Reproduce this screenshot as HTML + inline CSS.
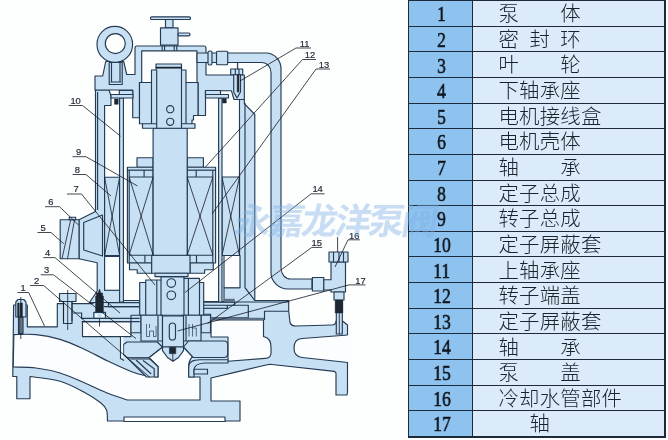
<!DOCTYPE html>
<html lang="zh"><head><meta charset="utf-8"><title>屏蔽泵结构图</title>
<style>
html,body{margin:0;padding:0;background:#fdfefe;}
body{width:668px;height:440px;overflow:hidden;position:relative;font-family:"Liberation Sans",sans-serif;}
#d{position:absolute;left:0;top:0;will-change:transform;}
.b,.b *{fill:#c7e0f4;stroke:#243b53;stroke-width:1.15;stroke-linejoin:round;}
.w{fill:#fcfdfe;stroke:#243b53;stroke-width:1.15;stroke-linejoin:round;}
.w0{fill:#fcfdfe;stroke:none;}
.s{fill:none;stroke:#243b53;stroke-width:1.15;}
.k{fill:none;stroke:#141b24;stroke-width:.8;}
.kk{fill:#1d2633;stroke:#1d2633;stroke-width:.5;}
.g{fill:#5d6f84;stroke:none;}
.t text{font-family:"Liberation Sans",sans-serif;font-size:9.4px;fill:#1d2633;stroke:#1d2633;stroke-width:.2px;text-anchor:middle;}
#tb{position:absolute;left:408.1px;top:0.2px;border-collapse:collapse;table-layout:fixed;width:257.2px;}
#tb td{border:1.2px solid #1c2a3a;height:24.44px;padding:0;box-sizing:border-box;overflow:hidden;white-space:nowrap;line-height:24.44px;}
#tb tr{height:25.64px;}
#tb td.n{width:64.0px;background:#8ec3f0;text-align:center;font-family:"Liberation Serif",serif;font-weight:normal;font-size:22px;color:#10151c;-webkit-text-stroke:.65px #10151c;}
#tb td.n span{display:inline-block;will-change:transform;transform:translate(1px,1px) scaleX(.8);}
#tb td.m{background:#dcebf9;position:relative;}
#tb td.m span{position:absolute;left:26px;top:2px;height:20px;width:130px;overflow:hidden;color:transparent;font-size:19px;line-height:20px;white-space:nowrap;}
.bd{position:absolute;background:#1c2a3a;}
#g{position:absolute;left:0;top:0;pointer-events:none;}
#g .lb text{font-family:"Liberation Sans","Noto Sans CJK SC",sans-serif;font-size:20.4px;font-weight:300;fill:#1a222c;}
#g .wm text{font-family:"Liberation Sans","Noto Sans CJK SC",sans-serif;font-size:36px;font-weight:bold;fill:#7fb0e4;}
</style></head>
<body>
<svg id="d" width="668" height="440" viewBox="0 0 668 440">
<!-- ===== pump body (1) ===== -->
<g class="b">
<path d="M13.6,305 H27.3 V326.8 H57.3 V303.6 H93 V301.5 H288.7 V311 L290,322.5 Q291,326 296,326 L332,325 Q336,325 336,321 H342.5 L347.5,325 V392.5 L347,395 H336 V373 L334.5,371.4 L272,364.5 Q269.6,364.2 267,364.8 L233.7,372.6 L211,378 V401 H240 V421 H107.5 L107.5,421.0 C107.3,419.2 107.7,413.0 106.5,410.0 C105.3,407.0 104.4,405.8 100.6,402.8 C96.8,399.8 90.6,395.6 83.8,392.0 C77.0,388.4 69.0,383.9 60.0,381.3 C51.0,378.7 35.0,377.3 30.0,376.5 V398.7 H16.8 V376.5 H12.8 Z"/>
</g>
<path class="w" d="M13.9,334.6 C17.6,334.6 28.3,333.8 36.0,334.6 C43.7,335.4 52.0,337.0 60.0,339.4 C68.0,341.8 75.8,345.4 83.8,349.0 C91.8,352.6 99.8,357.2 107.8,361.0 C115.8,364.8 125.7,369.3 131.7,371.7 C137.7,374.1 139.3,374.4 143.7,375.3 C148.1,376.2 155.6,376.7 158.0,377.0 V366.5 L149,357.5 L162.5,347 H183.5 L192.5,356.7 Q188.7,360 188.7,367 V377 H200 V400 H127.5 L127.5,400.0 C124.2,398.9 115.1,396.2 107.8,393.3 C100.5,390.4 91.8,385.9 83.8,382.5 C75.8,379.1 68.0,375.4 60.0,373.0 C52.0,370.6 43.8,369.0 36.0,368.0 C28.2,367.0 17.0,367.2 13.2,367.0 Z"/>
<path class="w" d="M211,320 H263.5 V336.5 Q271,338 271,347 V353 Q271,358 265,358.4 L228,361.3 V337 H211 Z"/>
<path class="w" d="M82.5,321.6 H131 V336.6 H82.5 Z"/>
<path class="w" d="M348,335 L302,338.5 Q294,339 294,348 Q294,356.5 302,357.5 L348,362.5"/>
<path class="w0" d="M347,335.6 h3 v26.4 h-3 z"/>
<rect class="w" x="124" y="417" width="101" height="4.5"/>

<!-- left flange stud -->
<g class="b">
<path d="M15.8,317 V302 L18,299.5 H23.8 L26,302 V317 Z"/>
<rect x="18.5" y="317" width="4.5" height="16.6"/>
</g>
<path class="kk" d="M17.6,303 h1.6 v14 h-1.6 z M20.2,303 h2.2 v14 h-2.2 z"/>
<path class="k" d="M20.8,297 V339 M19.6,317 V333 M22,317 V333"/>
<!-- body top bolt -->
<g class="b">
<rect x="59.5" y="293.5" width="16.5" height="8"/>
<rect x="63.5" y="301.5" width="8.5" height="22"/>
</g>
<path class="k" d="M67.7,290 V330 M63.5,301.5 V321 M72,301.5 V321"/>
<!-- right flange bolt -->
<g class="b"><rect x="336.3" y="300" width="6" height="34"/></g>
<path class="kk" d="M337.2,300 h4.4 v9 h-4.4 z"/>
<path class="k" d="M339.3,309 V334"/>

<!-- ===== pump cover (15) & lower bearing housing (4) ===== -->
<g class="b">
<path d="M227.3,305.2 H248.3 V317.7 H210.6 V314.2 H203.4 V308.2 H227.3 Z"/>
<path d="M203.4,302.2 H234.5 V305.2 H203.4 Z M203.4,305.2 H227.3 V308.2 H203.4 Z"/>
<path d="M108.4,300.5 H139.7 V306.6 H108.4 Z"/>
<path d="M139.7,282.5 H145.7 V280 H161 V276.6 H184 V278.3 H199.5 V282.5 H203.7 V315.2 H139.7 Z"/>
<rect x="131" y="315.2" width="10" height="17.5"/>
<rect x="201" y="315.2" width="9.5" height="17.5"/>
<rect x="141" y="315.2" width="21.5" height="25.8"/>
<rect x="182" y="315.2" width="19" height="25.8"/>


</g>
<path class="s" d="M145.7,282.5 V315 M156.8,280 V315 M161,280 V316 M184,278.3 V316 M188.4,278.3 V315 M199.5,282.5 V315 M158,316 V341 M186,316 V341"/>
<path class="s" style="stroke-width:.7" d="M146.5,324 V336.5 h3 v-5.5 h4 v5.5 h2.6 V326 M149.5,324 v4 M192.5,336.5 V324 M196.3,336.5 v-8.5 h-3.8 M189,324 v12.5"/>
<circle class="b" cx="171.3" cy="283" r="4.3"/>
<circle class="b" cx="171.3" cy="295.3" r="4.3"/>
<path class="g" d="M210.6,317.7 H264.2 V320.1 H210.6 Z"/>
<path class="s" d="M264.5,320 V311.2 H288.7"/>
<path class="s" d="M72.7,313 H81.6 V318.4 H139.7 M81.6,321.6 H139.7 M108.4,302.6 H139.7 M104,306.6 H139.7"/>
<path class="g" d="M112,300.5 h9.5 v2 h-9.5 z"/>
<!-- ===== impeller (3) ===== -->
<g class="b">
<path d="M127,342 H157.2 L162.5,347 L149,357.5 H127 L123.5,354.5 V344.5 Z"/>
<path d="M183.5,347 L188.5,341 H224 Q227.7,341 227.7,345 V353.5 Q227.7,357.5 224,357.5 H193.2 Z"/>
<path d="M127,357.5 L146.5,377 H158 V366.5 L148.2,357.5 Z"/>
<path d="M188.7,377 V367 Q188.7,359.7 200,359.7 H228 V363 H205 Q194,363.5 194,370 V377 Z"/>
<rect x="194" y="369.2" width="13.5" height="4.8"/>
<rect x="162.5" y="316" width="21" height="31"/>
<path d="M162.5,347 H183.5 V350.7 L178.5,357.5 L173,361.3 L167.5,357.5 L162.5,350.7 Z"/>
<rect x="169.3" y="323" width="6.2" height="17" rx="3.1"/>
</g>
<path class="s" d="M143,360.5 L154.2,368.7 V377 M136,360 L151.2,374"/>
<path class="g" d="M128.5,357.5 H148.2 L150.5,359.8 H131 Z"/>
<path class="kk" d="M169.4,347.3 h6.4 v6.4 h-6.4 z"/>
<path class="k" d="M172.8,353.7 V361"/>
<path class="w0" d="M120.8,337 h2.4 v21 h-2.4 z"/>
<path class="s" d="M120.5,336.6 V358.5 L124,360.5"/>

<!-- ===== motor casing (6) ===== -->
<g class="b">
<!-- left wall -->
<path d="M95.5,90 H109 L111,96 V105.5 H104.6 V290.2 H119.6 V302.5 H89.5 L97.2,291 V262.7 L79,258.7 V219.7 L95.5,211.5 Z"/>
<!-- right wall -->
<path d="M239.5,99.5 H244.3 V103.6 L254.8,114.5 V300.5 H288.6 V302 H224 V287.7 H239.5 Z"/>
</g>
<path class="s" d="M245,103 V287.7 L254.8,300.5 M97.6,92 V210"/>
<!-- junction box (5) -->
<g class="b">
<path d="M60.2,219.7 H79 V258.7 H60.2 Z"/>
<path d="M83.7,222.5 L102.5,215 V256 L83.7,250 Z"/>
<rect x="69.2" y="217.2" width="6.5" height="2.5"/>
</g>
<path class="k" d="M70.7,219.7 L62,258.7 M74.5,219.7 L67.5,258.7"/>
<!-- drain screw -->
<path class="kk" d="M99.5,289 L100.8,293 H102.6 V296 H103.4 V312.3 H95.6 V296 H96.4 V293 H98.2 Z"/><path class="k" d="M99.5,312 V326.5"/>
<rect class="b" x="93.8" y="312.3" width="11.7" height="6.1"/><path class="w0" d="M95,314 h2.4 v3 h-2.4 z M101.8,314 h2.4 v3 h-2.4 z"/>


<path class="g" d="M224.3,298.8 h10.5 v3.4 h-10.5 z"/>
<!-- white gaps -->
<rect class="w" x="104.6" y="256.5" width="15" height="33.7"/>
<rect class="w" x="224" y="255.5" width="16" height="32.2"/>

<!-- ===== stator (8) ===== -->
<g class="b">
<rect x="104.6" y="177.2" width="15" height="78.3"/>
<rect x="222" y="177" width="17.5" height="78.5"/>
</g>
<path class="k" d="M104.6,177.4 L119.6,255.3 M119.6,177.4 L104.6,255.3 M222,177.2 L239.5,255.3 M239.5,177.2 L222,255.3"/>

<!-- ===== shield sleeves (10,13) ===== -->
<g class="b">
<rect x="119.6" y="98" width="3.8" height="204"/>
<rect x="218.6" y="98" width="3.4" height="204"/>
</g>

<!-- ===== rotor (9) ===== -->
<g class="b">
<path d="M137,157.7 H153.1 V167.2 H137 Z M187.2,157.7 H203.4 V167.2 H187.2 Z"/>
<rect x="127.4" y="167.2" width="25.7" height="3"/>
<rect x="187.2" y="167.2" width="28.4" height="3"/>
<rect x="127.4" y="170.2" width="25.7" height="92.8"/>
<rect x="187.2" y="170.2" width="28.4" height="92.8"/>
<path d="M129.5,263 H151.7 V273.2 H137.2 V269.7 H129.5 Z M190,263 H213.3 V269.7 H204.6 V273.2 H190 Z"/>
<rect x="151.7" y="255.2" width="38.3" height="18"/>
<rect x="155" y="273.2" width="33" height="3.4"/>
<rect x="153.1" y="128.2" width="34.1" height="127"/>
</g>
<path class="s" d="M129.2,170.2 V263 M212.8,170.2 V263 M129.2,177 H153.1 M187.2,177 H212.8 M129.2,255.2 H153.1 M187.2,255.2 H212.8 M144.1,170.2 V177 M196.2,170.2 V177 M144.9,255.2 V263 M196.5,255.2 V263"/>
<path class="k" d="M129.2,177.2 L153.1,255 M153.1,177.2 L129.2,255 M187.2,177.2 L212.8,255 M212.8,177.2 L187.2,255"/>

<!-- ===== top cover (12) ===== -->
<g class="b">
<path d="M95,90 V76 H102.7 L105.7,61.5 H123.7 L126.7,74.5 H135 V48 Q135,46 137,46 H204 Q206,46 206,48 V75 H244.3 V99.5 H234 L231.4,90.7 H205.5 V115.5 H198 V82.5 H197 V50.8 H141.7 V82.5 H139.5 V117.7 H132.7 V90 Z"/>
<rect x="119.3" y="90.5" width="13.4" height="4"/>
<rect x="111" y="94.5" width="22" height="3.5"/>
<rect x="205.5" y="90.5" width="15" height="4"/>
<rect x="205.5" y="94.5" width="23" height="3.5"/>
</g>
<path class="kk" d="M114.5,99 h3.7 v5.3 h-3.7 z M222.6,98.6 h3.7 v4.4 h-3.7 z"/>

<!-- ===== upper bearing housing (11) ===== -->
<g class="b">
<path d="M139.5,82.5 H151.5 V70 H156 V64 H181.5 V70 H186 V82.5 H198 V115.5 H193.5 V120 H192 V123.7 H195 V128.2 H142.5 V123.7 H139.5 Z"/>
</g>
<path class="s" d="M151.5,82.5 V123.7 M156.7,70 V128.2 M181.5,70 V128.2 M186,82.5 V123.7 M142.5,123.7 H156.7 M181.5,123.7 H192"/>
<path class="kk" d="M156,67 H181.5 V68.3 H156 Z"/>
<circle class="b" cx="170.2" cy="109.2" r="3.6"/>
<circle class="b" cx="170.2" cy="121.8" r="3.6"/>

<!-- ===== eye bolt ===== -->
<g class="b">
<rect x="109.2" y="62.5" width="13" height="22"/>
<path fill-rule="evenodd" d="M97,44.4 a17.8,18 0 1,0 35.6,0 a17.8,18 0 1,0 -35.6,0 Z M105.3,43.6 a10,10 0 1,0 20,0 a10,10 0 1,0 -20,0 Z"/>
</g>
<path class="s" d="M111.5,63 V82 M120,63 V82 M110.5,82 H121"/>

<!-- ===== vent valve ===== -->
<g class="b">
<rect x="150.5" y="16.8" width="40" height="2.7" rx="1.3"/>
<rect x="165.5" y="19.5" width="7.5" height="8.3"/>
<rect x="160.5" y="27.8" width="17.5" height="17.4"/>
<rect x="178" y="33" width="12" height="2.8" rx="1.3"/>

</g>
<path class="s" d="M162.2,45.5 V50.8 M164.6,45.5 V50.8 M174.2,45.5 V50.8 M176.8,45.5 V50.8 M197,56 H216.5 M197,61.2 H216.5"/>

<!-- ===== cooling pipe (16) ===== -->
<g class="b">
<path d="M197,53 H266 A15,16 0 0 1 281,69 V268 A9.5,11 0 0 0 290.5,279 H312 V289 H288 A17,16.5 0 0 1 271,272.5 V72.5 A9,10 0 0 0 262,62.5 H197 Z"/>
<rect x="208" y="51" width="4" height="14" rx="1.5"/>
<rect x="216.5" y="51.2" width="11.2" height="13.5" rx="1"/>
<rect x="312.4" y="277.5" width="11.4" height="13.5"/>
<path d="M323.8,279.7 H331 V262 H345.5 V292 H331 V290 H323.8 Z"/>
<rect x="329" y="252" width="19" height="10"/>
<rect x="334" y="292" width="10" height="8"/>
</g>
<path class="s" d="M333.5,252 V262 M339,252 V262 M343.5,252 V262"/>
<path class="k" d="M337.6,237 V252"/>
<path class="kk" d="M335.2,300 h7.6 v13 h-7.6 z"/>
<!-- cover bolt (right) -->
<g class="b">
<rect x="230.7" y="69" width="12" height="5.7"/>
<path d="M233.7,74.7 H240.5 V92 L237,98 L233.7,92 Z"/>
</g>
<path class="kk" d="M237.3,62.5 h.6 v6.5 h-.6 z M237.2,74.7 h1.8 V92 h-1.8 z"/>
<path class="s" d="M235.3,69 V74.7 M239,69 V74.7"/>

<!-- ===== seal / spring (left bottom) ===== -->

<!-- ===== leader lines & labels ===== -->
<g class="k">
<path d="M17.5,292.5 H28.7 L44.5,326"/>
<path d="M30,285.5 H43.7 L150,377.5"/>
<path d="M40.7,274.8 H53.5 L136,338.6"/>
<path d="M43.3,257.6 H55 L120,313"/>
<path d="M37.5,232.5 H51 L63.7,243.7"/>
<path d="M45,206.7 H59.5 L78.5,225"/>
<path d="M67,194 H81.5 L155,285"/>
<path d="M72.5,174.5 H86 L111,196"/>
<path d="M72.5,156.7 H86 L137.5,186"/>
<path d="M68.7,105.5 H82.5 L120.5,136.2"/>
<path d="M311,48 H296 L240,81"/>
<path d="M316,59.5 H302.5 L205,167.5"/>
<path d="M330,69 H316 L212,214"/>
<path d="M324.6,193.8 H311.1 L185,292.5"/>
<path d="M322.2,247.4 H311.8 L207.5,323.7"/>
<path d="M359.8,239.8 H348 L335,267"/>
<path d="M365.5,284.9 H349 L177.5,331"/>
</g>
<path d="M216.9,267.9 l1.3,-1 M280.6,270.2 l.9,1.1 M283.2,81.6 l1,-1" stroke="#e8742a" stroke-width="1" fill="none"/>
<g class="t" opacity=".99">
<text x="23" y="291">1</text>
<text x="36.5" y="284">2</text>
<text x="46.5" y="273.3">3</text>
<text x="47.5" y="255.8">4</text>
<text x="43" y="231.3">5</text>
<text x="50.8" y="204.9">6</text>
<text x="76" y="192">7</text>
<text x="77.3" y="172.7">8</text>
<text x="78.7" y="154.6">9</text>
<text x="75.6" y="103.8">10</text>
<text x="304.5" y="46.8">11</text>
<text x="310" y="58.3">12</text>
<text x="324" y="67.8">13</text>
<text x="317.6" y="191.9">14</text>
<text x="316.8" y="246.2">15</text>
<text x="354.2" y="238.6">16</text>
<text x="360.5" y="283.6">17</text>
</g>

</svg>
<div class="bd" style="left:407.8px;top:0;width:257.8px;height:2px"></div><div class="bd" style="left:407.8px;top:0;width:1.7px;height:437.6px"></div><div class="bd" style="left:663.9px;top:0;width:1.7px;height:437.6px"></div><div class="bd" style="left:407.8px;top:436px;width:257.8px;height:1.6px"></div>
<table id="tb"><tbody>
<tr><td class="n"><span>1</span></td><td class="m"><span>泵体</span></td></tr>
<tr><td class="n"><span>2</span></td><td class="m"><span>密封环</span></td></tr>
<tr><td class="n"><span>3</span></td><td class="m"><span>叶轮</span></td></tr>
<tr><td class="n"><span>4</span></td><td class="m"><span>下轴承座</span></td></tr>
<tr><td class="n"><span>5</span></td><td class="m"><span>电机接线盒</span></td></tr>
<tr><td class="n"><span>6</span></td><td class="m"><span>电机壳体</span></td></tr>
<tr><td class="n"><span>7</span></td><td class="m"><span>轴承</span></td></tr>
<tr><td class="n"><span>8</span></td><td class="m"><span>定子总成</span></td></tr>
<tr><td class="n"><span>9</span></td><td class="m"><span>转子总成</span></td></tr>
<tr><td class="n"><span>10</span></td><td class="m"><span>定子屏蔽套</span></td></tr>
<tr><td class="n"><span>11</span></td><td class="m"><span>上轴承座</span></td></tr>
<tr><td class="n"><span>12</span></td><td class="m"><span>转子端盖</span></td></tr>
<tr><td class="n"><span>13</span></td><td class="m"><span>定子屏蔽套</span></td></tr>
<tr><td class="n"><span>14</span></td><td class="m"><span>轴承</span></td></tr>
<tr><td class="n"><span>15</span></td><td class="m"><span>泵盖</span></td></tr>
<tr><td class="n"><span>16</span></td><td class="m"><span>冷却水管部件</span></td></tr>
<tr><td class="n"><span>17</span></td><td class="m"><span>轴</span></td></tr>
</tbody></table>
<div style="position:absolute;left:236px;top:203px;width:200px;height:34px;overflow:hidden;color:transparent;font-size:33px;line-height:34px;white-space:nowrap;font-style:italic;font-weight:bold">永嘉龙洋泵阀</div>
<svg id="g" width="668" height="440" viewBox="0 0 668 440">
<g class="lb">
<text x="498.5 560.36" y="21.19">泵体</text>
<text x="498.5 529.43 560.36" y="46.83">密封环</text>
<text x="498.5 560.36" y="72.47">叶轮</text>
<text x="498.5 519.12 539.74 560.36" y="98.11">下轴承座</text>
<text x="498.5 519.12 539.74 560.36 580.98" y="123.75">电机接线盒</text>
<text x="498.5 519.12 539.74 560.36" y="149.39">电机壳体</text>
<text x="498.5 560.36" y="175.03">轴承</text>
<text x="498.5 519.12 539.74 560.36" y="200.67">定子总成</text>
<text x="498.5 519.12 539.74 560.36" y="226.31">转子总成</text>
<text x="498.5 519.12 539.74 560.36 580.98" y="251.95">定子屏蔽套</text>
<text x="498.5 519.12 539.74 560.36" y="277.59">上轴承座</text>
<text x="498.5 519.12 539.74 560.36" y="303.23">转子端盖</text>
<text x="498.5 519.12 539.74 560.36 580.98" y="328.87">定子屏蔽套</text>
<text x="498.5 560.36" y="354.51">轴承</text>
<text x="498.5 560.36" y="380.15">泵盖</text>
<text x="498.5 519.12 539.74 560.36 580.98 601.6" y="405.79">冷却水管部件</text>
<text x="529.43" y="431.43">轴</text>
</g>
<g class="wm" fill-opacity=".42" transform="translate(0,235) skewX(-9) translate(0,-235)">
<text x="233.2 266.6 300 333.4 366.8 400.2" y="234.4">永嘉龙洋泵阀</text>
</g>
</svg>
</body></html>
